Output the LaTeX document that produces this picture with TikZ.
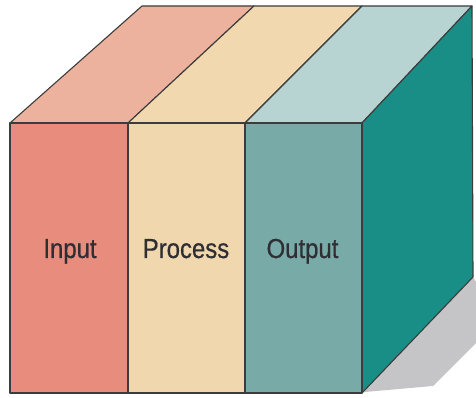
\documentclass[tikz,border=0pt]{standalone}
\usepackage{fontspec}
\newfontfamily\labelfont{Liberation Sans}[FakeStretch=0.87, FakeBold=0.6]
\definecolor{inFront}{HTML}{E88C7E}
\definecolor{inTop}{HTML}{EDB29E}
\definecolor{prFront}{HTML}{F1D7AE}
\definecolor{prTop}{HTML}{F1D8AE}
\definecolor{outFront}{HTML}{78ABA7}
\definecolor{outTop}{HTML}{B7D3D2}
\definecolor{sideFace}{HTML}{188E86}
\definecolor{shadowGray}{HTML}{C5C5C7}
\definecolor{edgeGray}{HTML}{3C3C3C}
\definecolor{labelGray}{HTML}{2E2E33}
\tikzset{
  face/.style={draw=edgeGray, line width=1.1pt, line join=round},
  blocklabel/.style={font=\labelfont\fontsize{27.5}{30}\selectfont, text=labelGray, anchor=base, inner sep=0pt}
}
\begin{document}
\begin{tikzpicture}[x=1pt,y=1pt]
\useasboundingbox (0,0) rectangle (476,398);
% front corners (bottom / top) of the four vertical edges
\coordinate (b0) at (10,5);   \coordinate (f0) at (10,275);
\coordinate (b1) at (128,5);  \coordinate (f1) at (128,275);
\coordinate (b2) at (245,5);  \coordinate (f2) at (245,275);
\coordinate (b3) at (362,5);  \coordinate (f3) at (362,275);
% back corners of the top face
\coordinate (t0) at (142,392);
\coordinate (t1) at (254,392);
\coordinate (t2) at (362,392);
\coordinate (t3) at (472,392);
% back bottom corner of the side face
\coordinate (r3) at (473,121);
% drop shadow
\fill[shadowGray] (b3) -- (r3) -- (476,116) -- (476,55) -- (433,12) -- (365,6) -- cycle;
% top faces
\draw[face, fill=inTop]  (f0) -- (t0) -- (t1) -- (f1) -- cycle;
\draw[face, fill=prTop]  (f1) -- (t1) -- (t2) -- (f2) -- cycle;
\draw[face, fill=outTop] (f2) -- (t2) -- (t3) -- (f3) -- cycle;
% side face
\draw[face, fill=sideFace] (f3) -- (t3) -- (r3) -- (b3) -- cycle;
% front faces
\draw[face, fill=inFront]  (b0) rectangle (f1);
\draw[face, fill=prFront]  (b1) rectangle (f2);
\draw[face, fill=outFront] (b2) rectangle (f3);
% labels
\node[blocklabel] (input)   at (70,140)    {Input};
\node[blocklabel] (process) at (186,140)   {Process};
\node[blocklabel] (output)  at (302.5,140) {Output};
\end{tikzpicture}
\end{document}
